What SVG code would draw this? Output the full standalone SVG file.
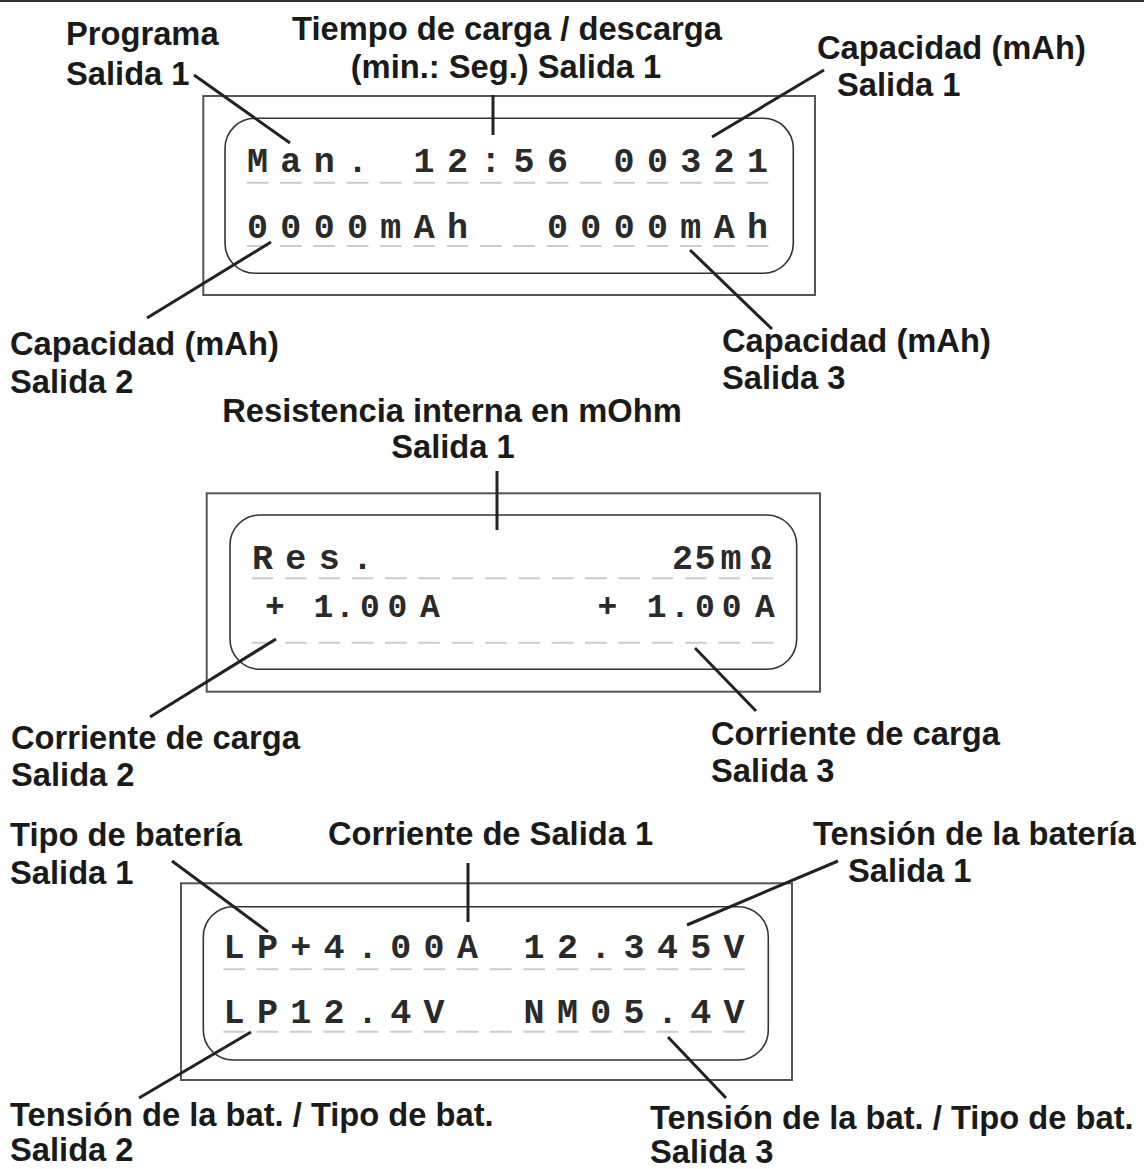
<svg xmlns="http://www.w3.org/2000/svg" width="1144" height="1169" viewBox="0 0 1144 1169">
<style>
.lbl{font-family:"Liberation Sans",Arial,sans-serif;font-weight:bold;font-size:32.7px;fill:#1a1a1a}
.lcd{font-family:"Liberation Mono","Courier New",monospace;font-weight:bold;font-size:35px;fill:#2a2a2a;letter-spacing:12.33px}
.lcdp{font-family:"Liberation Mono","Courier New",monospace;font-weight:bold;font-size:33px;fill:#2a2a2a;text-anchor:middle}
.outer{fill:none;stroke:#555;stroke-width:2}
.inner{fill:none;stroke:#333;stroke-width:1.6}
.dash{fill:none;stroke:#c9ccd6;stroke-width:2;stroke-dasharray:21.7 11.63}
.lead{fill:none;stroke:#222;stroke-width:3}
</style>
<rect x="0" y="0" width="1144" height="2" fill="#333"/>

<g id="display1">
<rect class="outer" x="203.3" y="96" width="611.7" height="199"/>
<rect class="inner" x="225" y="118.3" width="568.3" height="155" rx="30" ry="30"/>
<line class="dash" x1="246.7" y1="182.7" x2="768.4" y2="182.7"/>
<line class="dash" x1="246.7" y1="246" x2="768.4" y2="246"/>
<text class="lcd" x="247" y="171.7">Man.</text>
<text class="lcd" x="413.6" y="171.7">12:56</text>
<text class="lcd" x="613.6" y="171.7">00321</text>
<text class="lcd" x="247" y="238.3">0000mAh</text>
<text class="lcd" x="547" y="238.3">0000mAh</text>
</g>

<g id="display2">
<rect class="outer" x="206.7" y="493.3" width="613.3" height="198.4"/>
<rect class="inner" x="230" y="515" width="566.7" height="154.3" rx="30" ry="30"/>
<line class="dash" x1="251.7" y1="578.3" x2="773.4" y2="578.3"/>
<line class="dash" x1="251.7" y1="642.7" x2="773.4" y2="642.7"/>
<text class="lcd" x="252" y="569.3">Res.</text>
<text class="lcdp" style="font-size:35px" x="682.5 705 731 761" y="569.3">25mΩ</text>
<text class="lcdp" x="275 323.3 345 370 397.5 430" y="616.7">+1.00A</text>
<text class="lcdp" x="607.5 656.7 680 705 731.7 765" y="616.7">+1.00A</text>
</g>

<g id="display3">
<rect class="outer" x="181" y="883.3" width="611" height="196.7"/>
<rect class="inner" x="203.3" y="906.7" width="565" height="153.3" rx="30" ry="30"/>
<line class="dash" x1="223.3" y1="969.3" x2="745" y2="969.3"/>
<line class="dash" x1="223.3" y1="1031.7" x2="745" y2="1031.7"/>
<text class="lcd" x="223.6" y="958.3">LP+4.00A</text>
<text class="lcd" x="523.6" y="958.3">12.345V</text>
<text class="lcd" x="223.6" y="1023.3">LP12.4V</text>
<text class="lcd" x="523.6" y="1023.3">NM05.4V</text>
</g>

<g id="connectors">
<line class="lead" x1="194" y1="75" x2="290" y2="143"/>
<line class="lead" x1="493" y1="95" x2="493" y2="135"/>
<line class="lead" x1="712" y1="137" x2="824" y2="70"/>
<line class="lead" x1="271" y1="242" x2="147" y2="318"/>
<line class="lead" x1="690" y1="250" x2="772" y2="329"/>
<line class="lead" x1="497" y1="471" x2="497" y2="530"/>
<line class="lead" x1="276" y1="639" x2="150" y2="717"/>
<line class="lead" x1="695" y1="648" x2="756" y2="711"/>
<line class="lead" x1="172" y1="861" x2="268" y2="932"/>
<line class="lead" x1="468" y1="863" x2="468" y2="922"/>
<line class="lead" x1="687" y1="925" x2="838" y2="861"/>
<line class="lead" x1="251" y1="1032" x2="139" y2="1098"/>
<line class="lead" x1="668" y1="1037" x2="726" y2="1098"/>
</g>

<g id="label-programa"><text class="lbl" x="66" y="45">Programa</text><text class="lbl" x="66" y="85">Salida 1</text></g>
<g id="label-tiempo"><text class="lbl" x="507" y="40" text-anchor="middle">Tiempo de carga / descarga</text><text class="lbl" x="506" y="78" text-anchor="middle">(min.: Seg.) Salida 1</text></g>
<g id="label-cap1"><text class="lbl" x="817" y="59">Capacidad (mAh)</text><text class="lbl" x="837" y="96">Salida 1</text></g>
<g id="label-cap2"><text class="lbl" x="10" y="355">Capacidad (mAh)</text><text class="lbl" x="10" y="393">Salida 2</text></g>
<g id="label-cap3"><text class="lbl" x="722" y="352">Capacidad (mAh)</text><text class="lbl" x="722" y="389">Salida 3</text></g>
<g id="label-res"><text class="lbl" x="452" y="422" text-anchor="middle">Resistencia interna en mOhm</text><text class="lbl" x="453" y="458" text-anchor="middle">Salida 1</text></g>
<g id="label-corr2"><text class="lbl" x="11" y="749">Corriente de carga</text><text class="lbl" x="11" y="786">Salida 2</text></g>
<g id="label-corr3"><text class="lbl" x="711" y="745">Corriente de carga</text><text class="lbl" x="711" y="782">Salida 3</text></g>
<g id="label-tipo"><text class="lbl" x="10" y="846">Tipo de batería</text><text class="lbl" x="10" y="884">Salida 1</text></g>
<g id="label-corrs1"><text class="lbl" x="328" y="845">Corriente de Salida 1</text></g>
<g id="label-tension1"><text class="lbl" x="813" y="845">Tensión de la batería</text><text class="lbl" x="848" y="882">Salida 1</text></g>
<g id="label-tension2"><text class="lbl" x="10" y="1126">Tensión de la bat. / Tipo de bat.</text><text class="lbl" x="10" y="1161">Salida 2</text></g>
<g id="label-tension3"><text class="lbl" x="650" y="1129">Tensión de la bat. / Tipo de bat.</text><text class="lbl" x="650" y="1163">Salida 3</text></g>
</svg>
